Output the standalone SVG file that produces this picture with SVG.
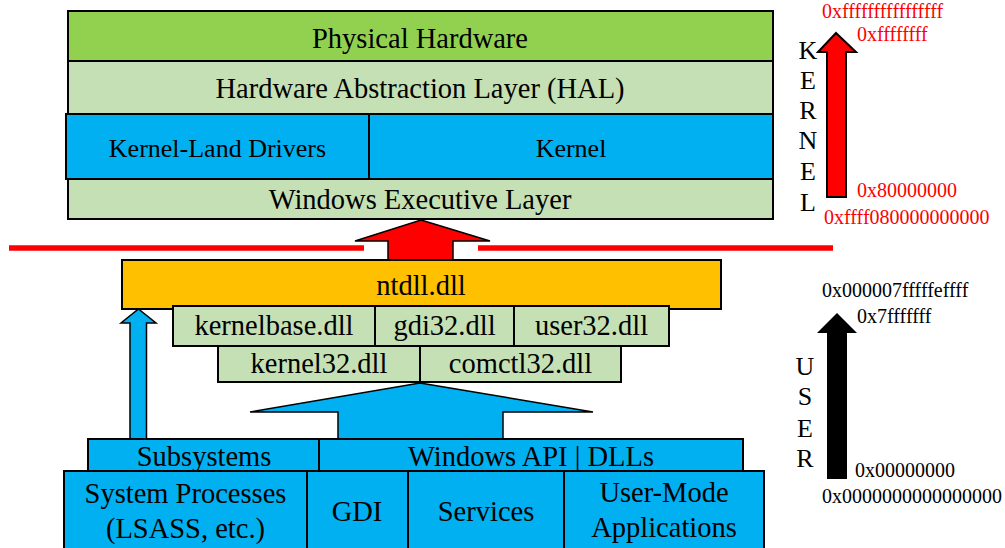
<svg xmlns="http://www.w3.org/2000/svg" width="1005" height="548" viewBox="0 0 1005 548" font-family="'Liberation Serif', serif">
<style>
text{font-family:'Liberation Serif',serif}
.b{stroke:#000;stroke-width:2}
.lg{fill:#C5E0B4}
.bl{fill:#00B0F0}
.t28{font-size:28.5px;text-anchor:middle}
.t26{font-size:26px;text-anchor:middle}
.addr{font-size:20px}
.red{fill:#FF0000}
.lt{font-size:26px;text-anchor:middle}
.arr{stroke:#000;stroke-width:1.5}
</style>
<rect width="1005" height="548" fill="#fff"/>
<g id="physical-hardware"><rect class="b" x="68" y="11" width="705" height="50" fill="#92D050"/><text class="t28" x="420" y="48">Physical Hardware</text></g>
<g id="hal"><rect class="b lg" x="68" y="61" width="705" height="53"/><text class="t28" x="420" y="98">Hardware Abstraction Layer (HAL)</text></g>
<g id="kernel-land-drivers"><rect class="b bl" x="66" y="114" width="303" height="65"/><text class="t26" x="217.5" y="157">Kernel-Land Drivers</text></g>
<g id="kernel"><rect class="b bl" x="369" y="114" width="404" height="65"/><text class="t26" x="571" y="157">Kernel</text></g>
<g id="executive"><rect class="b lg" x="68" y="179" width="705" height="40"/><text class="t28" x="420" y="209">Windows Executive Layer</text></g>

<g id="connectors">
<polygon class="arr" points="421,220 490,241 453,241 453,260 388,260 388,241 355,241" fill="#FF0000"/>
<line x1="9" y1="248" x2="364" y2="248" stroke="#FF0000" stroke-width="5.5"/>
<line x1="478" y1="248" x2="833" y2="248" stroke="#FF0000" stroke-width="5.5"/>
<polygon class="arr" points="138.5,309 156,323 146.5,323 146.5,439 130,439 130,323 121,323" fill="#00B0F0"/>
<polygon class="arr" points="420,383 593,412 503,412 503,439 338,439 338,412 250,412" fill="#00B0F0"/>
</g>

<g id="ntdll"><rect class="b" x="122" y="260" width="599" height="49" fill="#FFC000"/><text class="t28" x="421" y="295">ntdll.dll</text></g>
<g id="kernelbase"><rect class="b lg" x="173" y="306" width="202" height="40"/><text class="t28" x="274" y="335">kernelbase.dll</text></g>
<g id="gdi32"><rect class="b lg" x="375" y="306" width="139" height="40"/><text class="t28" x="444.5" y="335">gdi32.dll</text></g>
<g id="user32"><rect class="b lg" x="514" y="306" width="155" height="40"/><text class="t28" x="591.5" y="335">user32.dll</text></g>
<g id="kernel32"><rect class="b lg" x="218" y="346" width="202" height="36"/><text class="t28" x="319" y="373">kernel32.dll</text></g>
<g id="comctl32"><rect class="b lg" x="420" y="346" width="201" height="36"/><text class="t28" x="520.5" y="373">comctl32.dll</text></g>

<g id="subsystems"><rect class="b bl" x="88" y="439" width="231" height="32"/><text class="t28" x="204" y="466">Subsystems</text></g>
<g id="winapi"><rect class="b bl" x="319" y="439" width="424" height="32"/><text class="t28" x="531" y="466">Windows API | DLLs</text></g>
<g id="system-processes"><rect class="b bl" x="64" y="471" width="243" height="80"/><text class="t28" x="185.5" y="503">System Processes</text><text class="t28" x="185.5" y="538">(LSASS, etc.)</text></g>
<g id="gdi"><rect class="b bl" x="307" y="471" width="101" height="80"/><text class="t28" x="357" y="521">GDI</text></g>
<g id="services"><rect class="b bl" x="408" y="471" width="156" height="80"/><text class="t28" x="486" y="521">Services</text></g>
<g id="user-mode-apps"><rect class="b bl" x="564" y="471" width="200" height="80"/><text class="t28" x="664" y="502">User-Mode</text><text class="t28" x="664" y="537">Applications</text></g>

<g id="kernel-range">
<polygon points="836,33 856,52 846,52 846,197 827,197 827,52 818,52" fill="#FF0000" stroke="#000" stroke-width="2"/>
<text class="lt" x="808" y="59">K</text><text class="lt" x="808" y="89">E</text><text class="lt" x="808" y="119">R</text><text class="lt" x="808" y="149">N</text><text class="lt" x="808" y="180">E</text><text class="lt" x="808" y="211">L</text>
<text class="addr red" x="822" y="18">0xffffffffffffffff</text>
<text class="addr red" x="857" y="41">0xffffffff</text>
<text class="addr red" x="857" y="197">0x80000000</text>
<text class="addr red" x="824" y="224">0xffff080000000000</text>
</g>
<g id="user-range">
<polygon points="837,313 857,333 847,333 847,479 827,479 827,333 817,333" fill="#000"/>
<text class="lt" x="805" y="375">U</text><text class="lt" x="805" y="405">S</text><text class="lt" x="805" y="437">E</text><text class="lt" x="805" y="467">R</text>
<text class="addr" x="822" y="297">0x000007fffffeffff</text>
<text class="addr" x="857" y="323">0x7fffffff</text>
<text class="addr" x="855" y="477">0x00000000</text>
<text class="addr" x="822" y="503">0x0000000000000000</text>
</g>
</svg>
